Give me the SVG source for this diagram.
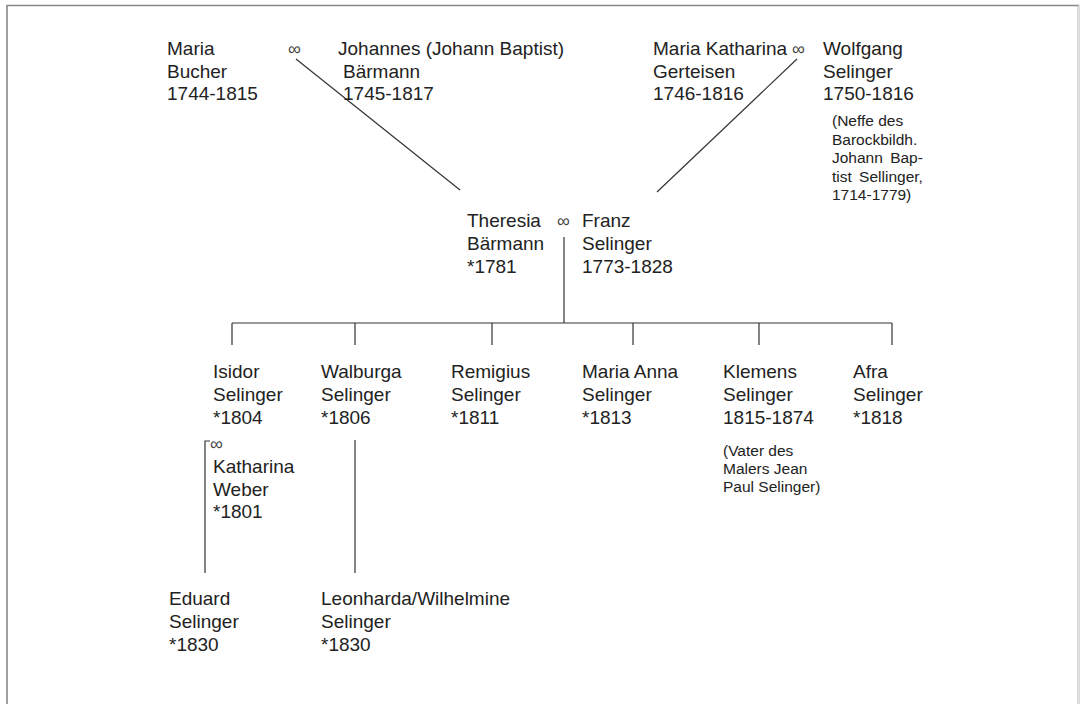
<svg xmlns="http://www.w3.org/2000/svg" width="1080" height="704" viewBox="0 0 1080 704">
<style>
text{font-family:"Liberation Sans",Arial,sans-serif;font-size:19px;fill:#222}
.n{font-size:15.5px}
.m{font-size:18px;fill:#444}
.c{stroke:#333;stroke-width:1.2;fill:none}
</style>
<rect width="1080" height="704" fill="#fff"/>
<path d="M7,710 V5.5 H1078.5 V710" fill="none" stroke="#888" stroke-width="1.6"/>
<path d="M1078.5,5.5 V710" stroke="#ddd" stroke-width="1.5"/>
<g id="connectors">
<line class="c" x1="296" y1="59" x2="460" y2="190"/>
<line class="c" x1="797" y1="59" x2="657" y2="192"/>
<line class="c" x1="564" y1="237" x2="564" y2="323"/>
<line class="c" x1="232" y1="323" x2="892" y2="323"/>
<path class="c" d="M232,323V345M355,323V345M492,323V345M633,323V345M759,323V345M892,323V345"/>
<path class="c" d="M210,441H205V573"/>
<line class="c" x1="355" y1="440" x2="355" y2="573"/>
</g>
<g id="maria-bucher"><text x="167" y="55">Maria</text><text x="167" y="78">Bucher</text><text x="167" y="100">1744-1815</text></g>
<g id="m1"><text class="m" x="288" y="55">∞</text></g>
<g id="johannes-baermann"><text x="338" y="55">Johannes (Johann Baptist)</text><text x="343" y="78">Bärmann</text><text x="343" y="100">1745-1817</text></g>
<g id="maria-katharina"><text x="653" y="55">Maria Katharina</text><text x="653" y="78">Gerteisen</text><text x="653" y="100">1746-1816</text></g>
<g id="m2"><text class="m" x="792" y="55">∞</text></g>
<g id="wolfgang"><text x="823" y="55">Wolfgang</text><text x="823" y="78">Selinger</text><text x="823" y="100">1750-1816</text>
<text class="n" x="832" y="126">(Neffe des</text><text class="n" x="832" y="144.5">Barockbildh.</text><text class="n" x="832" y="163" word-spacing="3">Johann Bap-</text><text class="n" x="832" y="181.5" word-spacing="3">tist Sellinger,</text><text class="n" x="832" y="200">1714-1779)</text></g>
<g id="theresia"><text x="467" y="227">Theresia</text><text x="467" y="250">Bärmann</text><text x="467" y="273">*1781</text></g>
<g id="m3"><text class="m" x="557" y="227">∞</text></g>
<g id="franz"><text x="582" y="227">Franz</text><text x="582" y="250">Selinger</text><text x="582" y="273">1773-1828</text></g>
<g id="isidor"><text x="213" y="378">Isidor</text><text x="213" y="401">Selinger</text><text x="213" y="424">*1804</text></g>
<g id="walburga"><text x="321" y="378">Walburga</text><text x="321" y="401">Selinger</text><text x="321" y="424">*1806</text></g>
<g id="remigius"><text x="451" y="378">Remigius</text><text x="451" y="401">Selinger</text><text x="451" y="424">*1811</text></g>
<g id="maria-anna"><text x="582" y="378">Maria Anna</text><text x="582" y="401">Selinger</text><text x="582" y="424">*1813</text></g>
<g id="klemens"><text x="723" y="378">Klemens</text><text x="723" y="401">Selinger</text><text x="723" y="424">1815-1874</text>
<text class="n" x="723" y="456">(Vater des</text><text class="n" x="723" y="474">Malers Jean</text><text class="n" x="723" y="492">Paul Selinger)</text></g>
<g id="afra"><text x="853" y="378">Afra</text><text x="853" y="401">Selinger</text><text x="853" y="424">*1818</text></g>
<g id="m4"><text class="m" x="210" y="450">∞</text></g>
<g id="katharina-weber"><text x="213" y="473">Katharina</text><text x="213" y="496">Weber</text><text x="213" y="518">*1801</text></g>
<g id="eduard"><text x="169" y="605">Eduard</text><text x="169" y="628">Selinger</text><text x="169" y="651">*1830</text></g>
<g id="leonharda"><text x="321" y="605">Leonharda/Wilhelmine</text><text x="321" y="628">Selinger</text><text x="321" y="651">*1830</text></g>
</svg>
